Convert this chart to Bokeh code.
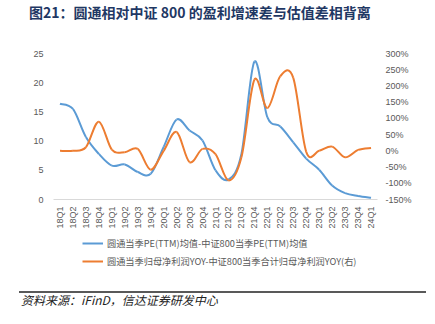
import numpy as np
from bokeh.plotting import figure
from bokeh.models import (Range1d, LinearAxis, FixedTicker, PrintfTickFormatter,
                          Legend, LegendItem, ColumnDataSource, Div, Spacer)
from bokeh.layouts import column, row
from bokeh.embed import file_html
from bokeh.resources import INLINE

quarters = ["18Q1", "18Q2", "18Q3", "18Q4", "19Q1", "19Q2", "19Q3", "19Q4",
            "20Q1", "20Q2", "20Q3", "20Q4", "21Q1", "21Q2", "21Q3", "21Q4",
            "22Q1", "22Q2", "22Q3", "22Q4", "23Q1", "23Q2", "23Q3", "23Q4", "24Q1"]
pe_diff = [16.4, 15.5, 10.7, 7.8, 5.8, 6.0, 4.7, 4.4, 9.0, 13.7, 11.8, 10.1, 5.0,
           3.4, 7.8, 23.6, 14.1, 12.5, 9.8, 7.0, 5.1, 2.4, 1.1, 0.6, 0.3]
yoy_diff = [0, 0, 11, 90, 4, -4, 6, -58, 0, 58, -35, 6, -10,
            -91, -20, 219, 132, 230, 225, -3, 0, 13, -20, 3, 9]
left_ticks = [0, 5, 10, 15, 20, 25]
right_ticks = [-150, -100, -50, 0, 50, 100, 150, 200, 250, 300]

series1_name = "圆通当季PE(TTM)均值-中证800当季PE(TTM)均值"
series2_name = "圆通当季归母净利润YOY-中证800当季合计归母净利润YOY(右)"
title_text = "图21：圆通相对中证 800 的盈利增速差与估值差相背离"
source_text = "资料来源：iFinD，信达证券研发中心"

BLUE = "#5B9BD5"
ORANGE = "#ED7D31"
LABEL_COLOR = "#595959"
CJK = "Noto Sans CJK SC"
NUM = "Liberation Sans"


def smooth(ys):
    """Catmull-Rom style bezier segments (Excel smooth line)."""
    xs = np.arange(len(ys), dtype=float)
    ys = np.asarray(ys, dtype=float)
    n = len(ys)
    xp = np.concatenate([[xs[0]], xs, [xs[-1]]])
    yp = np.concatenate([[ys[0]], ys, [ys[-1]]])
    d = dict(x0=[], y0=[], x1=[], y1=[], cx0=[], cy0=[], cx1=[], cy1=[])
    for i in range(n - 1):
        p0x, p0y = xp[i], yp[i]
        p1x, p1y = xp[i + 1], yp[i + 1]
        p2x, p2y = xp[i + 2], yp[i + 2]
        p3x, p3y = xp[i + 3], yp[i + 3]
        d["x0"].append(p1x); d["y0"].append(p1y)
        d["x1"].append(p2x); d["y1"].append(p2y)
        d["cx0"].append(p1x + (p2x - p0x) / 6); d["cy0"].append(p1y + (p2y - p0y) / 6)
        d["cx1"].append(p2x - (p3x - p1x) / 6); d["cy1"].append(p2y - (p3y - p1y) / 6)
    return ColumnDataSource(d)


p = figure(width=435, height=199, output_backend="svg", toolbar_location=None,
           x_range=Range1d(-0.5, len(quarters) - 0.5), y_range=Range1d(0, 25),
           min_border_top=20, min_border_left=53, min_border_right=58,
           min_border_bottom=33)
p.outline_line_color = None
p.xgrid.visible = False
p.ygrid.visible = False
p.extra_y_ranges = {"pct": Range1d(-150, 300)}

p.bezier(x0="x0", y0="y0", x1="x1", y1="y1", cx0="cx0", cy0="cy0", cx1="cx1", cy1="cy1",
         source=smooth(pe_diff), line_color=BLUE, line_width=2)
p.bezier(x0="x0", y0="y0", x1="x1", y1="y1", cx0="cx0", cy0="cy0", cx1="cx1", cy1="cy1",
         source=smooth(yoy_diff), line_color=ORANGE, line_width=2, y_range_name="pct")

# x axis
xa = p.xaxis[0]
xa.ticker = FixedTicker(ticks=list(range(len(quarters))))
xa.major_label_overrides = {i: q for i, q in enumerate(quarters)}
xa.major_label_orientation = np.pi / 2
xa.major_tick_line_color = None
xa.major_tick_out = 0
xa.minor_tick_line_color = None
xa.axis_line_color = "#D9D9D9"
xa.axis_line_width = 1
xa.major_label_text_font = NUM
xa.major_label_text_font_size = "9px"
xa.major_label_text_color = LABEL_COLOR
xa.major_label_standoff = 7

# left axis
ya = p.yaxis[0]
ya.ticker = FixedTicker(ticks=left_ticks)
ya.axis_line_color = None
ya.major_tick_line_color = None
ya.major_tick_out = 0
ya.minor_tick_line_color = None
ya.major_label_text_font = NUM
ya.major_label_text_font_size = "9px"
ya.major_label_text_color = LABEL_COLOR
ya.major_label_standoff = 10

# right axis
ra = LinearAxis(y_range_name="pct", ticker=FixedTicker(ticks=right_ticks),
                formatter=PrintfTickFormatter(format="%d%%"))
ra.axis_line_color = None
ra.major_tick_line_color = None
ra.major_tick_out = 0
ra.minor_tick_line_color = None
ra.major_label_text_font = NUM
ra.major_label_text_font_size = "9px"
ra.major_label_text_color = LABEL_COLOR
ra.major_label_standoff = 8
p.add_layout(ra, "right")

# legend in its own figure (frame aligned with the chart frame)
lf = figure(width=435, height=50, output_backend="svg", toolbar_location=None,
            x_axis_type=None, y_axis_type=None, min_border=0,
            min_border_left=53, min_border_right=58, min_border_top=0, min_border_bottom=0,
            x_range=Range1d(0, 1), y_range=Range1d(0, 1))
lf.outline_line_color = None
lf.xgrid.visible = False
lf.ygrid.visible = False
dummy = ColumnDataSource(dict(x=[np.nan], y=[np.nan]))
r1 = lf.line("x", "y", source=dummy, line_color=BLUE, line_width=2)
r2 = lf.line("x", "y", source=dummy, line_color=ORANGE, line_width=2)
legend = Legend(items=[LegendItem(label=series1_name, renderers=[r1]),
                       LegendItem(label=series2_name, renderers=[r2])],
                orientation="vertical", location=(29, 14))
legend.label_text_font = CJK
legend.label_text_font_size = "9.2px"
legend.label_text_color = LABEL_COLOR
legend.glyph_width = 21
legend.glyph_height = 14
legend.label_height = 14
legend.spacing = 4
legend.padding = 0
legend.margin = 0
legend.border_line_color = None
legend.background_fill_alpha = 0
legend.label_standoff = 4
lf.add_layout(legend, "center")

title_div = Div(width=435, height=31, margin=0, text=(
    '<div style="position:relative;width:435px;height:31px;">'
    '<div style="position:absolute;left:29px;top:2px;white-space:nowrap;line-height:20px;'
    f"font-family:'{CJK}';font-weight:bold;font-size:14px;color:#1F3864;\">"
    f'{title_text}</div>'
    '</div>'))

# grey rule under the title: a tiny figure whose whole canvas is filled
rule_fig = figure(width=407, height=2, output_backend="svg", toolbar_location=None,
                  x_axis_type=None, y_axis_type=None, min_border=0,
                  min_border_left=0, min_border_right=0, min_border_top=0, min_border_bottom=0,
                  x_range=Range1d(0, 1), y_range=Range1d(0, 1),
                  background_fill_color="#808080", border_fill_color="#808080")
rule_fig.outline_line_color = None
rule_fig.xgrid.visible = False
rule_fig.ygrid.visible = False
rule_row = row(Spacer(width=19, height=2), rule_fig, spacing=0)

source_div = Div(width=435, height=42, margin=0, text=(
    '<div style="position:relative;width:435px;height:42px;">'
    '<div style="position:absolute;left:19px;top:9px;width:407px;height:2px;background:#595959;"></div>'
    '<div style="position:absolute;left:21px;top:11px;white-space:nowrap;line-height:14px;'
    f"font-family:'{CJK}';font-style:italic;font-size:12px;color:#222;\">"
    f'{source_text}</div>'
    '</div>'))

layout = column(title_div, rule_row, p, lf, source_div, spacing=0)
open("out.html", "w").write(file_html(layout, INLINE))
